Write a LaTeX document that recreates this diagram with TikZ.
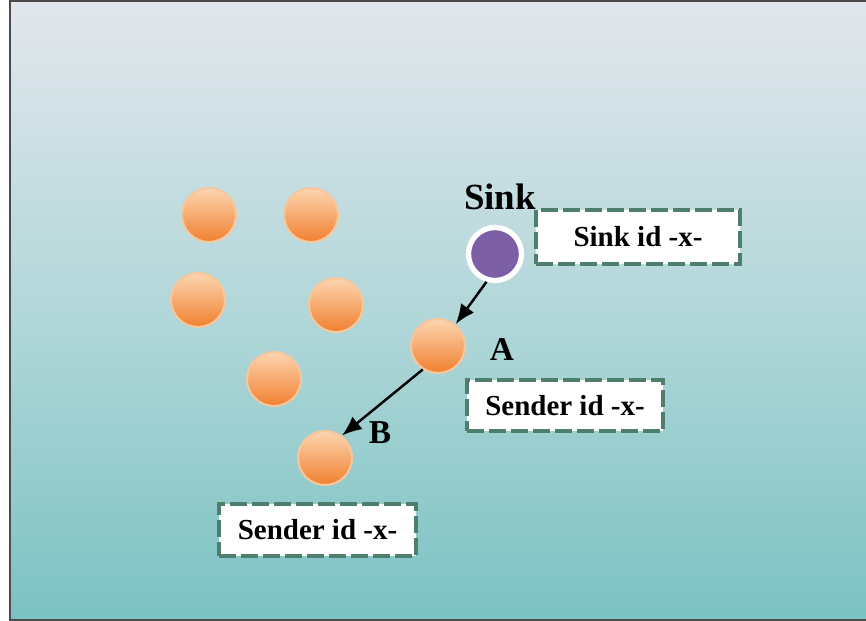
\documentclass[tikz,border=0pt]{standalone}
\usepackage{fontspec}
\setmainfont{Liberation Serif}
\usetikzlibrary{arrows.meta,positioning}
\definecolor{bgtop}{HTML}{E2E6EC}
\definecolor{bgmid}{HTML}{B2D7D9}
\definecolor{bgbot}{HTML}{7CC2C2}
\definecolor{orlight}{HTML}{FDD5B0}
\definecolor{ordark}{HTML}{F08030}
\definecolor{orrim}{HTML}{F6C79D}
\definecolor{sinkfill}{HTML}{7D5FA6}
\definecolor{boxline}{HTML}{4E7F6C}
\tikzset{
  sensor/.style={circle,minimum size=1.08cm,inner sep=0pt,top color=orlight,bottom color=ordark,draw=orrim,line width=1.2pt},
  sinknode/.style={circle,minimum size=1.06cm,inner sep=0pt,fill=sinkfill,draw=white,line width=3pt},
  idbox/.style={draw=boxline,fill=white,line width=2.2pt,dash pattern=on 0.34cm off 0.1cm,inner sep=0pt,font=\bfseries\fontsize{16.5}{19}\selectfont},
  lbl/.style={font=\bfseries\fontsize{19}{22}\selectfont},
  hop/.style={-{Latex[length=0.4cm,width=0.32cm]},line width=1.4pt}
}
\begin{document}
\begin{tikzpicture}[x=0.02cm,y=-0.02cm]
    \useasboundingbox (0,0) rectangle (866,621);
    \shade[top color=bgtop,bottom color=bgbot,middle color=bgmid] (10,1) rectangle (866,620);
    \draw[gray!60!black,line width=0.8pt] (866,1) -- (10,1) -- (10,620) -- (866,620);
    % the idle sensors
    \node[sensor] (s1) at (209,215) {};
    \node[sensor] (s2) at (311,215) {};
    \node[sensor] (s3) at (198,300) {};
    \node[sensor] (s4) at (336,305) {};
    \node[sensor] (s5) at (274,379) {};
    % the route from the sink
    \node[sinknode] (sink) at (495,254) {};
    \node[sensor] (A) at (438,346) {};
    \node[sensor] (B) at (325,458) {};
    \node[lbl,font=\bfseries\fontsize{21}{24}\selectfont] (sinklbl) at (500,197) {Sink};
    \node[lbl] (albl) at (502,349) {A};
    \node[lbl] (blbl) at (380,433) {B};
    \node[idbox,minimum width=4.08cm,minimum height=1.08cm] (sinkid) at (638,237) {Sink id -x-};
    \node[idbox,minimum width=3.92cm,minimum height=1.02cm] (aid) at (565,405.5) {Sender id -x-};
    \node[idbox,minimum width=3.94cm,minimum height=1.04cm] (bid) at (317.5,530) {Sender id -x-};
    \draw[hop] (sink.253) -- (A.51);
    \draw[hop] (A.237) -- (B.53);
\end{tikzpicture}
\end{document}
